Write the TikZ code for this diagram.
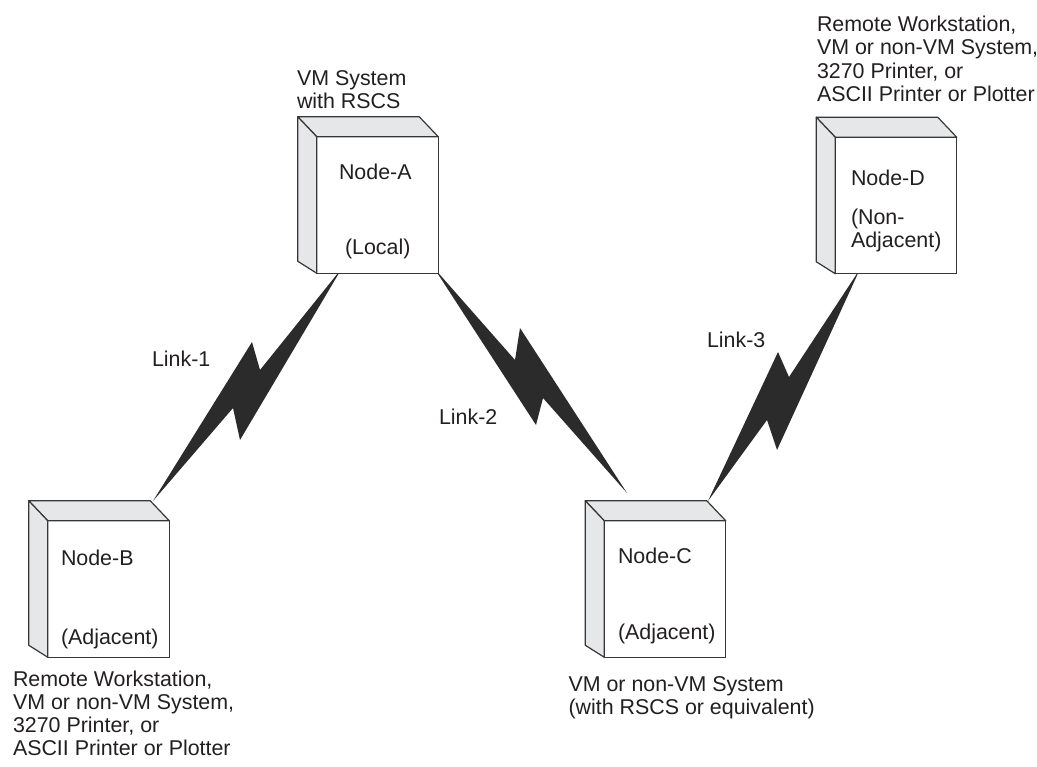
\documentclass[tikz,border=0pt]{standalone}
\usepackage{fontspec}
\setmainfont{Liberation Sans}
\usetikzlibrary{calc}
\definecolor{ink}{RGB}{35,31,32}
\definecolor{edge}{RGB}{55,55,55}
\definecolor{facegrey}{RGB}{230,231,232}
\definecolor{boltfill}{RGB}{43,43,43}
\tikzset{
  front/.style={draw=edge, line width=0.6pt, fill=white, minimum width=60.75pt, minimum height=68.25pt, inner sep=0pt, outer sep=0pt},
  sideface/.style={draw=edge, line width=0.6pt, fill=facegrey, line join=round},
  lbl/.style={anchor=base west, inner sep=0pt, outer sep=0pt, text=ink, align=left, font=\fontsize{10.7}{11.65}\selectfont},
  bolt/.style={fill=boltfill, draw=none},
}
\newcommand\cubefaces[1]{%
  \filldraw[sideface] (#1.north west) -- ++(-19,-20) -- ($(#1.north east)+(-19,-20)$) -- (#1.north east) -- cycle;
  \filldraw[sideface] (#1.north west) -- ++(-19,-20) -- ($(#1.south west)+(-19,-12)$) -- (#1.south west) -- cycle;
}
\begin{document}
\begin{tikzpicture}[x=0.5pt,y=-0.5pt]
\useasboundingbox (0,0) rectangle (1037,766);
% lightning links
\fill[bolt] (342,268) -- (260,370) -- (252,342) -- (153,501) -- (233,408) -- (240,440) -- cycle;
\fill[bolt] (434,268) -- (515,360) -- (520,328) -- (627,493) -- (543,398) -- (536,425) -- cycle;
\fill[bolt] (860,269) -- (789,377) -- (778,352) -- (708,501) -- (767,420) -- (777,450) -- cycle;
% boxes
\node[front] (A) at (377.5,205) {};
\cubefaces{A}
\node[front] (B) at (108.5,589) {};
\cubefaces{B}
\node[front] (C) at (665,589) {};
\cubefaces{C}
\node[front] (D) at (896,205.5) {};
\cubefaces{D}
% texts inside boxes
\node[lbl] (a1) at (339,179) {Node-A};
\node[lbl] (a2) at (345,254) {(Local)};
\node[lbl] (b1) at (61,565) {Node-B};
\node[lbl] (b2) at (61,644) {(Adjacent)};
\node[lbl] (c1) at (618,563) {Node-C};
\node[lbl] (c2) at (618,639) {(Adjacent)};
\node[lbl] (d1) at (851,185) {Node-D};
\node[lbl] (d2) at (851,247.3) {(Non-\\Adjacent)};
% descriptions (base anchor = baseline of the last line)
\node[lbl] (ta) at (297,108.3) {VM System\\with RSCS};
\node[lbl] (td) at (817,101.5) {Remote Workstation,\\VM or non-VM System,\\3270 Printer, or\\ASCII Printer or Plotter};
\node[lbl] (tb) at (13,755.9) {Remote Workstation,\\VM or non-VM System,\\3270 Printer, or\\ASCII Printer or Plotter};
\node[lbl] (tc) at (568.5,714.8) {VM or non-VM System\\(with RSCS or equivalent)};
% link labels
\node[lbl] (l1) at (152,366) {Link-1};
\node[lbl] (l2) at (439,424) {Link-2};
\node[lbl] (l3) at (707,347) {Link-3};
\end{tikzpicture}
\end{document}
